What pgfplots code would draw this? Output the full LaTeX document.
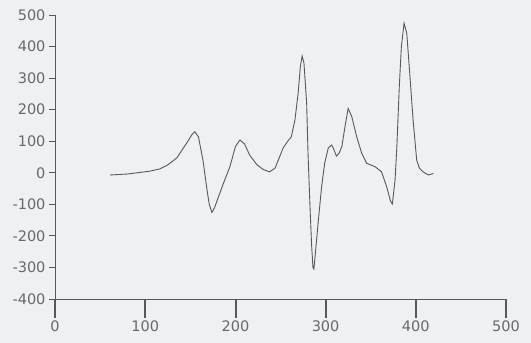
\documentclass[border=0pt]{standalone}
\usepackage{pgfplots}
\pgfplotsset{compat=1.18}
\usepackage{fontspec}
\setmainfont{DejaVu Sans}
\definecolor{bgcol}{HTML}{EFF0F2}
\definecolor{axiscol}{HTML}{585858}
\definecolor{textcol}{HTML}{686868}
\begin{document}
\begin{tikzpicture}[x=1pt,y=1pt]
\fill[bgcol] (0,0) rectangle (531,343);
\useasboundingbox (0,0) rectangle (531,343);
\begin{axis}[name=ax, at={(55pt,44pt)}, anchor=south west, scale only axis,
  width=451pt, height=284pt,
  xmin=0, xmax=500, ymin=-400, ymax=500,
  clip=false,
  axis x line=bottom, axis y line=left,
  axis line style={axiscol, -, line width=0.8pt},
  xtick={0,100,200,300,400,500},
  xticklabels={0,100,200,300,400,500},
  ytick={-400,-300,-200,-100,0,100,200,300,400,500},
  yticklabels={-400,-300,-200,-100,0,100,200,300,400,500},
  tick align=outside, major tick length=6pt,
  ytick style={axiscol, line width=0.8pt},
  xtick style={draw=none},
  ticklabel style={font=\fontsize{14.5}{16}\selectfont, text=textcol},
  xticklabel style={yshift=-12pt},
]
\addplot[axiscol, line width=0.9pt] coordinates {
(61,-7) (80,-4) (105,5) (116,12) (125,25) (135,47) (146,94) (152,122) (155,130) (159,114) (164,41) (168,-44) (171,-100) (174,-126) (177,-110) (180,-86) (186,-39) (194,20) (200,83) (205,104) (210,92) (216,55) (224,25) (231,10) (238,3) (244,15) (253,79) (258,100) (262,114) (266,167) (269.6,253) (272,336) (274,370) (276,348) (279,221) (280.5,63) (282.7,-107) (284.5,-230) (286,-300) (287,-305) (288,-276) (292,-150) (295.6,-44) (299,31) (303,79) (306.7,88) (309,75) (312,53) (315,62) (318,83) (321.5,146) (325,204) (329,178) (334.5,114) (340,62) (345.5,30) (355,19) (362,3) (367.7,-44) (372,-90) (374,-99) (377,-23) (379,83) (381.7,273) (384,400) (387,474) (390,442) (393,326) (397,167) (401,40) (404,15) (408,3) (414,-7) (419.5,-2)
};
\end{axis}
\draw[color=axiscol, line width=1.1pt] (55,44) -- (55,25);
\draw[color=axiscol, line width=1.1pt] (145,44) -- (145,25);
\draw[color=axiscol, line width=1.1pt] (236,44) -- (236,25);
\draw[color=axiscol, line width=1.1pt] (326,44) -- (326,25);
\draw[color=axiscol, line width=1.1pt] (416,44) -- (416,25);
\draw[color=axiscol, line width=1.1pt] (506,44) -- (506,25);
\end{tikzpicture}
\end{document}
